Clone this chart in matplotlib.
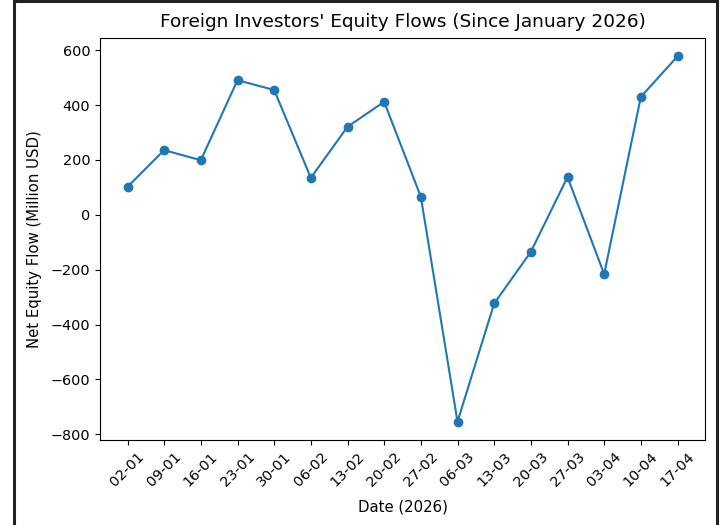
import matplotlib
matplotlib.use("Agg")
import matplotlib.pyplot as plt
from matplotlib.patches import Rectangle

# weekly net equity flows from foreign investors, million USD
dates = ["02-01", "09-01", "16-01", "23-01", "30-01", "06-02", "13-02", "20-02",
         "27-02", "06-03", "13-03", "20-03", "27-03", "03-04", "10-04", "17-04"]
flows = [102, 236, 199, 491, 455, 135, 321, 412,
         66, -754, -323, -135, 138, -216, 430, 578]

fig = plt.figure(figsize=(7.26, 5.25), dpi=100)
ax = fig.add_axes([100 / 726, 1 - 440 / 525, 605 / 726, 402 / 525])

ax.plot(dates, flows, marker='o')
ax.set_title("Foreign Investors' Equity Flows (Since January 2026)", fontsize=13.3, pad=8)
ax.set_xlabel("Date (2026)", fontsize=10.7, labelpad=7)
ax.set_ylabel("Net Equity Flow (Million USD)", fontsize=10.7, labelpad=6)
ax.tick_params(axis='x', rotation=45)
ax.tick_params(labelsize=10.4)

# dark frame from the screenshot
fig.add_artist(Rectangle((13.5 / 726, -0.01), 703 / 726, 1.0 - 1.0 / 525 + 0.01,
                         transform=fig.transFigure, fill=False,
                         edgecolor='#222222', linewidth=2.2, clip_on=False))

fig.savefig("out.png", dpi=100)
